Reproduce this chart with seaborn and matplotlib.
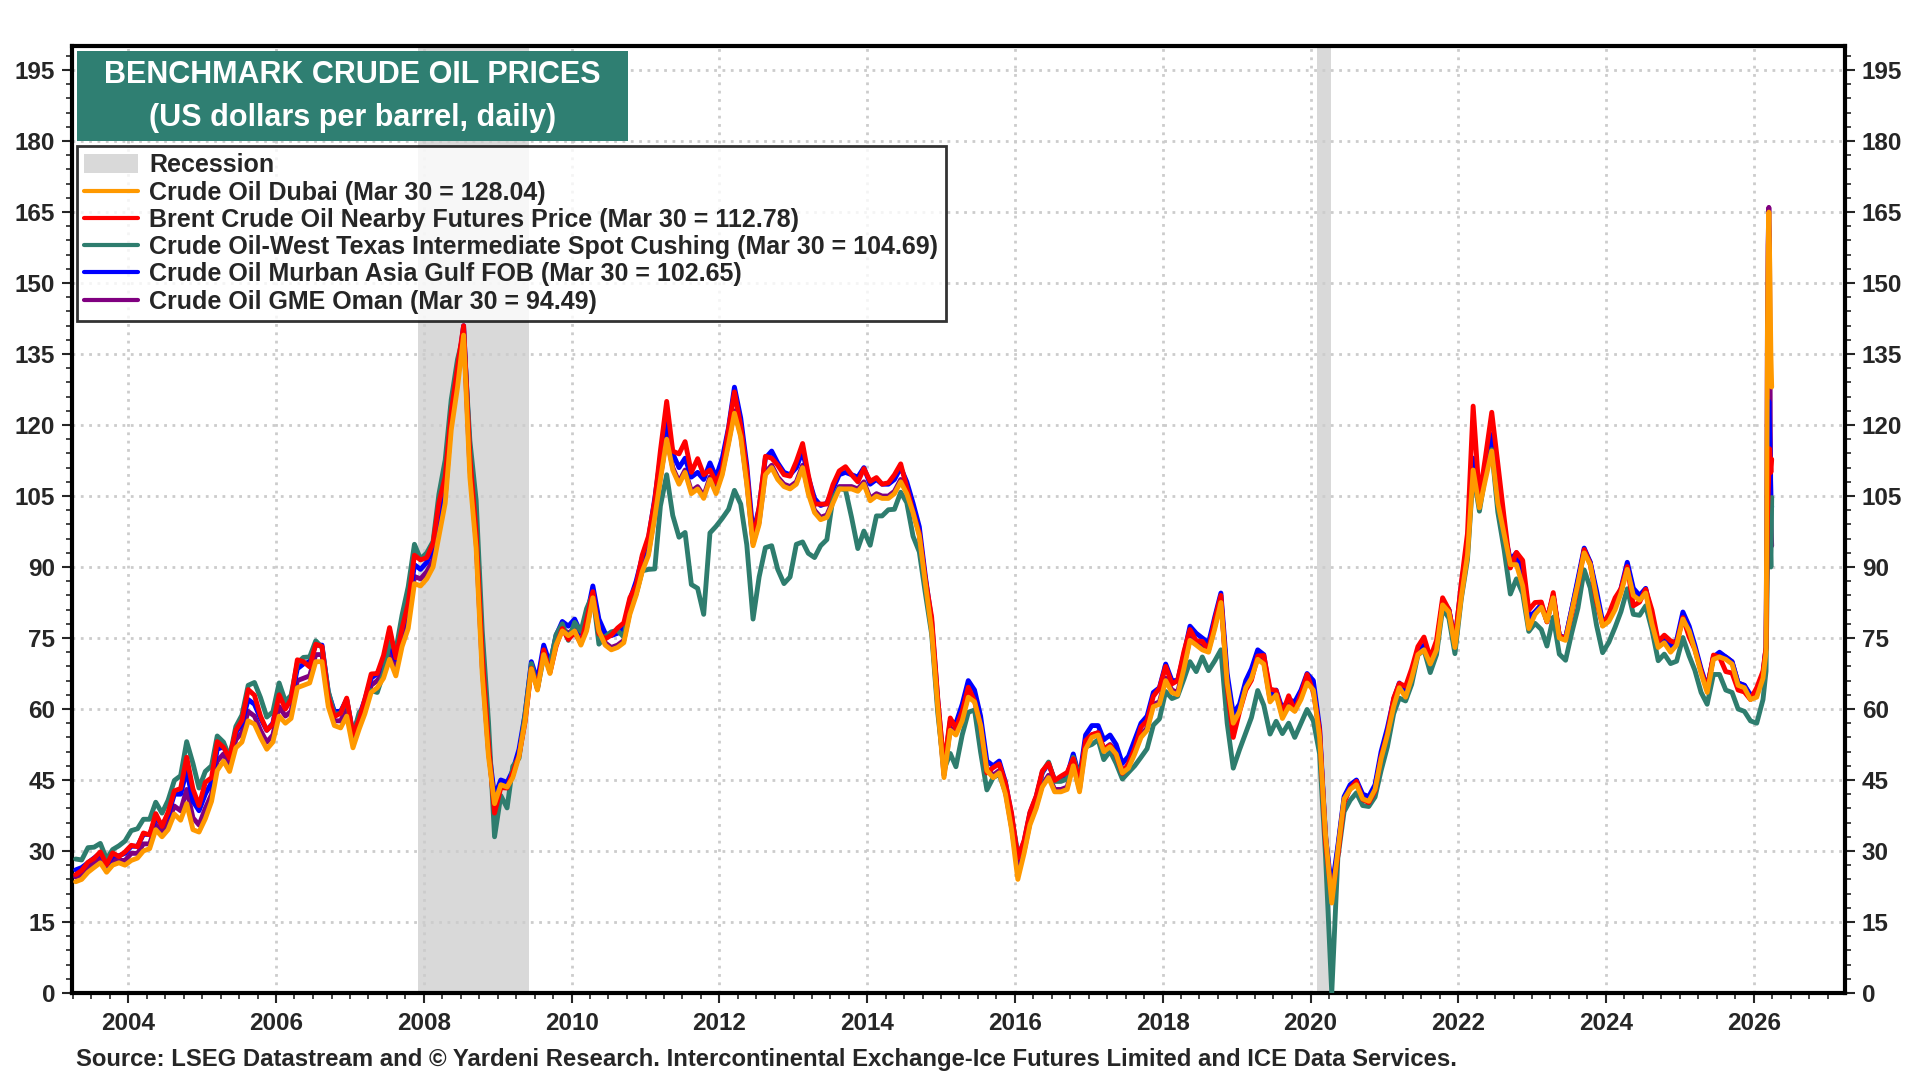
import pandas as pd
import matplotlib
matplotlib.use('Agg')
import matplotlib.pyplot as plt
import matplotlib.dates as mdates
from matplotlib.patches import Patch, Rectangle
from matplotlib.lines import Line2D
import seaborn as sns

sns.set_style('white')
plt.rcParams['font.family'] = ['Liberation Sans', 'DejaVu Sans']
plt.rcParams['font.weight'] = 'bold'

# monthly points (mid-month) Apr 2003 - Feb 2026, then a few March 2026 points
month_dates = list(pd.date_range('2003-04-01', '2026-02-01', freq='MS') + pd.Timedelta(days=14))
march_dates = list(pd.to_datetime(['2026-03-02', '2026-03-05', '2026-03-09', '2026-03-12', '2026-03-16',
                                   '2026-03-19', '2026-03-23', '2026-03-26', '2026-03-30']))
dates = month_dates + march_dates

dubai = [
    23.5, 24.0, 25.5, 26.5, 27.5, 25.5, 27.0, 27.5, 27.0,                         # 2003
    28.0, 28.5, 30.0, 30.5, 34.5, 33.0, 34.5, 37.8, 36.5, 40.0, 34.5, 34.0,       # 2004
    36.8, 40.5, 47.0, 49.0, 46.8, 51.8, 53.0, 57.5, 56.8, 54.0, 51.5, 53.0,       # 2005
    58.5, 57.0, 58.0, 64.5, 65.0, 65.5, 70.0, 70.0, 60.5, 56.5, 56.0, 58.5,       # 2006
    51.8, 55.8, 59.0, 63.5, 64.5, 66.5, 70.5, 67.0, 73.2, 77.0, 86.5, 86.0,       # 2007
    87.5, 90.0, 96.5, 103.5, 119.0, 128.0, 139.0, 109.0, 94.0, 67.5, 50.0, 40.0,  # 2008
    44.0, 43.5, 45.5, 50.0, 57.5, 68.5, 64.0, 71.5, 67.5, 73.5, 76.5, 75.5,       # 2009
    76.5, 73.5, 76.5, 83.5, 76.5, 73.5, 72.5, 73.0, 74.0, 80.0, 84.0, 89.0,       # 2010
    92.5, 100.5, 108.5, 117.0, 110.5, 107.5, 110.0, 105.5, 106.5, 104.5, 108.5, 105.5,  # 2011
    109.5, 116.0, 122.5, 117.5, 107.5, 94.5, 99.0, 109.5, 111.0, 108.5, 107.0, 106.5,   # 2012
    107.5, 111.0, 105.5, 101.5, 100.0, 100.5, 103.5, 106.5, 106.5, 106.5, 106.0, 107.5, # 2013
    104.0, 105.0, 104.5, 104.5, 105.5, 108.0, 105.5, 101.5, 96.5, 86.5, 76.5, 60.5,     # 2014
    45.5, 55.5, 54.5, 57.5, 62.5, 61.5, 56.5, 47.0, 45.5, 46.5, 42.0, 34.5,       # 2015
    24.0, 29.5, 35.5, 39.0, 43.5, 45.5, 42.5, 42.5, 43.0, 48.0, 42.5, 51.5,       # 2016
    54.0, 54.5, 51.0, 52.0, 50.5, 46.5, 47.5, 50.5, 54.0, 55.5, 60.5, 61.0,       # 2017
    66.0, 63.5, 63.0, 68.5, 74.5, 73.5, 72.5, 72.0, 77.0, 82.5, 65.5, 57.0,       # 2018
    59.5, 64.5, 66.5, 70.5, 69.5, 61.5, 63.0, 58.0, 60.5, 59.5, 62.0, 65.5,       # 2019
    64.0, 54.0, 33.5, 19.0, 30.0, 41.0, 43.0, 44.0, 41.0, 40.5, 43.0, 49.5,       # 2020
    54.5, 60.5, 64.5, 62.5, 66.5, 71.5, 72.5, 69.5, 72.5, 82.0, 80.5, 73.0,       # 2021
    83.5, 92.5, 110.5, 102.5, 108.5, 114.5, 103.5, 97.0, 90.5, 90.5, 86.0, 77.0,  # 2022
    80.0, 81.5, 78.5, 83.5, 75.0, 74.5, 80.5, 86.5, 93.0, 90.5, 83.5, 77.5,       # 2023
    78.5, 81.0, 84.5, 89.5, 84.0, 83.0, 84.5, 78.0, 73.0, 74.0, 72.0, 73.5,       # 2024
    79.0, 76.5, 72.5, 67.5, 63.5, 70.5, 71.0, 70.5, 69.5, 65.0, 64.5, 62.0,       # 2025
    62.5, 66.5,                                                                   # 2026 Jan-Feb
    72.0, 95.0, 140.0, 155.0, 165.0, 158.0, 145.0, 135.0, 128.04,                 # 2026 Mar
]

brent = [
    25.0, 25.9, 27.6, 28.4, 29.8, 27.1, 29.6, 28.8, 29.8,
    31.2, 30.9, 33.8, 33.4, 37.9, 35.2, 38.2, 42.7, 43.2, 49.8, 43.1, 39.6,
    44.5, 45.5, 53.1, 51.9, 49.6, 55.5, 57.6, 64.1, 62.9, 58.5, 55.5, 56.8,
    63.0, 60.0, 62.1, 70.4, 70.0, 68.9, 73.7, 73.2, 62.5, 58.4, 59.1, 62.3,
    54.6, 57.8, 62.1, 67.4, 67.5, 71.3, 77.2, 70.8, 77.1, 82.3, 92.5, 91.5,
    92.0, 95.0, 103.6, 109.1, 122.8, 132.3, 141.0, 113.2, 97.2, 71.6, 52.5, 38.0,
    43.4, 43.3, 46.5, 50.2, 57.3, 68.6, 64.4, 72.5, 67.7, 73.2, 77.0, 74.7,
    76.2, 73.8, 78.8, 84.8, 75.9, 74.8, 75.6, 77.1, 78.2, 83.5, 86.1, 92.5,
    96.5, 104.0, 114.6, 125.0, 114.5, 113.9, 116.5, 110.0, 112.9, 109.5, 110.5, 107.9,
    110.7, 119.3, 127.0, 119.8, 110.3, 95.2, 102.6, 113.4, 113.0, 111.5, 109.5, 109.2,
    112.3, 116.1, 109.5, 103.3, 103.3, 103.3, 107.4, 110.3, 111.2, 109.5, 108.0, 110.8,
    108.1, 108.9, 107.5, 107.8, 109.5, 111.8, 106.8, 101.6, 97.1, 87.4, 79.4, 62.3,
    47.8, 58.1, 55.9, 59.5, 64.6, 61.7, 56.5, 46.5, 47.6, 48.4, 44.3, 38.0,
    28.5, 32.2, 38.2, 41.6, 46.9, 48.5, 44.9, 45.8, 46.6, 49.5, 44.7, 53.3,
    54.6, 55.0, 51.6, 52.3, 50.3, 46.4, 48.5, 51.7, 56.2, 57.5, 62.7, 64.4,
    69.0, 65.3, 66.0, 72.1, 76.8, 74.4, 74.3, 72.5, 78.9, 84.0, 64.8, 54.0,
    59.4, 64.0, 66.1, 71.2, 71.3, 64.2, 63.9, 59.0, 62.8, 59.6, 63.2, 67.3,
    63.6, 55.5, 32.0, 20.0, 29.0, 40.3, 43.2, 44.7, 40.9, 40.2, 42.7, 49.9,
    54.8, 62.3, 65.4, 64.8, 68.5, 73.2, 75.2, 70.8, 74.5, 83.5, 81.0, 74.2,
    86.5, 97.1, 124.0, 104.6, 113.3, 122.7, 111.9, 100.5, 89.8, 93.1, 91.4, 80.9,
    82.5, 82.6, 78.4, 84.6, 75.5, 74.8, 80.1, 86.2, 93.7, 90.6, 82.9, 77.6,
    80.1, 83.5, 85.4, 90.1, 81.8, 82.6, 85.3, 80.9, 74.3, 75.6, 74.4, 73.9,
    79.3, 75.2, 72.6, 68.0, 64.2, 71.4, 71.0, 67.9, 67.6, 64.0, 63.6, 62.0,
    64.5, 68.0,
    73.0, 85.0, 100.0, 105.0, 110.0, 115.0, 112.0, 110.0, 112.78,
]

wti = [
    28.3, 28.1, 30.7, 30.8, 31.6, 28.3, 30.3, 31.1, 32.1,
    34.3, 34.7, 36.7, 36.7, 40.3, 38.0, 40.7, 44.9, 45.9, 53.1, 48.5, 43.3,
    46.8, 48.0, 54.3, 53.0, 49.8, 56.3, 58.7, 65.0, 65.6, 62.4, 58.3, 59.4,
    65.5, 61.6, 62.9, 69.7, 70.9, 71.0, 74.4, 73.0, 63.8, 58.9, 59.1, 62.0,
    54.5, 59.3, 60.4, 63.9, 63.5, 67.5, 74.1, 72.4, 79.9, 85.8, 94.8, 91.7,
    93.0, 95.4, 105.4, 112.6, 125.4, 133.9, 139.0, 116.7, 104.1, 76.6, 57.3, 33.0,
    41.7, 39.1, 47.9, 49.6, 59.0, 69.6, 64.2, 71.1, 69.4, 75.7, 78.0, 74.5,
    78.3, 76.4, 81.2, 84.3, 73.7, 75.3, 76.3, 76.6, 75.2, 81.9, 84.3, 89.2,
    89.5, 89.6, 102.9, 109.5, 100.9, 96.3, 97.3, 86.3, 85.5, 80.0, 97.2, 98.6,
    100.3, 102.2, 106.2, 103.3, 94.7, 79.0, 87.9, 94.1, 94.5, 89.5, 86.5, 87.9,
    94.8, 95.3, 92.9, 92.0, 94.5, 95.8, 104.6, 106.6, 106.3, 100.5, 93.9, 97.6,
    94.6, 100.8, 100.8, 102.1, 102.2, 105.8, 103.6, 96.5, 93.2, 84.4, 75.8, 59.3,
    47.2, 50.6, 47.8, 54.5, 59.3, 59.8, 50.9, 42.9, 45.5, 46.2, 42.4, 37.2,
    29.5, 30.3, 37.5, 40.8, 46.7, 48.8, 44.7, 44.7, 45.2, 49.8, 45.7, 52.0,
    52.5, 53.5, 49.3, 51.1, 48.5, 45.2, 46.6, 48.0, 49.8, 51.6, 56.6, 57.9,
    63.7, 62.2, 62.7, 66.3, 70.0, 67.9, 71.0, 68.1, 70.2, 72.5, 57.0, 47.5,
    51.4, 55.0, 58.2, 63.9, 60.8, 54.7, 57.4, 54.8, 57.0, 54.0, 57.0, 59.9,
    57.5, 50.5, 29.2, 0.0, 28.5, 38.3, 40.7, 42.3, 39.6, 39.4, 41.4, 47.0,
    52.0, 59.0, 62.3, 61.7, 65.2, 71.4, 72.5, 67.7, 71.5, 81.2, 79.2, 71.7,
    83.2, 91.6, 110.0, 101.8, 109.6, 114.8, 101.6, 93.7, 84.3, 87.5, 84.4, 76.4,
    78.1, 76.8, 73.3, 79.4, 71.6, 70.3, 76.0, 81.3, 89.4, 85.6, 77.7, 71.9,
    74.1, 77.3, 80.6, 85.4, 80.0, 79.8, 81.8, 76.7, 70.2, 71.6, 69.6, 70.1,
    75.1, 71.2, 68.2, 63.5, 61.0, 67.3, 67.3, 64.0, 63.5, 60.0, 59.5, 57.5,
    57.0, 62.0,
    68.0, 78.0, 90.0, 95.0, 98.0, 100.0, 95.0, 90.0, 104.69,
]

murban = [
    26.0, 26.5, 27.5, 28.5, 29.5, 27.0, 29.0, 29.0, 29.5,
    31.0, 31.0, 33.5, 33.5, 37.0, 35.5, 37.5, 42.0, 42.0, 47.0, 40.5, 38.5,
    42.0, 44.5, 51.5, 52.0, 50.0, 55.0, 57.0, 62.0, 61.0, 58.0, 55.5, 57.0,
    63.5, 61.0, 62.0, 68.5, 69.5, 70.0, 73.5, 73.5, 63.5, 59.5, 59.5, 62.0,
    55.0, 58.5, 62.0, 66.5, 67.5, 70.0, 74.0, 70.5, 77.0, 80.5, 90.5, 89.5,
    91.0, 94.0, 101.0, 108.0, 124.0, 131.0, 141.0, 114.0, 97.0, 71.0, 52.0, 41.5,
    45.0, 44.5, 47.0, 51.5, 59.0, 70.0, 66.0, 73.5, 69.5, 75.5, 78.5, 77.5,
    79.0, 76.0, 79.5, 86.0, 79.0, 76.0, 75.5, 76.0, 77.0, 83.0, 87.0, 92.0,
    96.0, 104.5, 113.0, 121.0, 114.0, 111.0, 113.0, 109.0, 110.0, 108.5, 112.0, 109.0,
    113.0, 119.5, 128.0, 121.5, 111.5, 97.0, 102.5, 113.0, 114.5, 112.0, 110.0, 109.5,
    111.0, 114.5, 109.0, 104.5, 103.0, 103.5, 106.5, 109.5, 110.0, 109.5, 109.0, 111.0,
    107.5, 108.5, 107.5, 107.5, 108.5, 111.0, 108.0, 103.5, 98.5, 88.0, 78.5, 62.0,
    47.5, 57.5, 57.0, 61.0, 66.0, 64.0, 58.5, 49.0, 48.0, 49.0, 44.5, 37.5,
    28.5, 32.0, 38.0, 41.5, 46.5, 48.5, 45.0, 45.0, 46.0, 50.5, 45.5, 54.5,
    56.5, 56.5, 53.5, 54.5, 52.5, 48.5, 50.0, 53.5, 57.0, 58.5, 63.5, 64.5,
    69.5, 66.0, 66.0, 71.5, 77.5, 76.0, 75.0, 74.0, 79.5, 84.5, 67.5, 59.0,
    61.0, 66.0, 68.5, 72.5, 71.5, 63.0, 64.0, 60.0, 62.0, 61.5, 64.0, 67.5,
    66.0, 56.0, 33.0, 22.0, 31.0, 41.5, 44.0, 45.0, 42.0, 41.5, 44.0, 51.0,
    56.0, 62.0, 65.5, 63.5, 67.5, 72.0, 73.5, 70.0, 73.5, 82.5, 81.0, 74.5,
    86.0, 95.0, 113.0, 104.0, 110.5, 118.0, 104.0, 97.5, 91.5, 93.0, 89.5, 79.5,
    80.5, 82.0, 78.5, 84.0, 75.5, 75.0, 81.0, 87.5, 94.0, 91.0, 85.0, 78.5,
    79.5, 82.5, 85.5, 91.0, 85.5, 84.0, 85.5, 79.5, 74.0, 75.0, 73.5, 74.5,
    80.5, 77.5, 73.5, 68.5, 64.5, 71.0, 72.0, 71.0, 70.0, 65.5, 65.0, 63.0,
    63.5, 67.5,
    73.0, 88.0, 110.0, 118.0, 125.0, 120.0, 112.0, 105.0, 102.65,
]

oman = [
    24.5, 25.0, 26.5, 27.5, 28.5, 26.0, 28.0, 28.0, 28.0,
    29.5, 29.5, 31.5, 31.5, 35.5, 34.0, 36.0, 39.5, 38.5, 43.0, 37.0, 35.5,
    39.0, 42.0, 49.0, 50.5, 48.0, 53.5, 55.0, 59.5, 58.5, 55.5, 53.0, 54.5,
    60.5, 58.5, 59.5, 66.0, 66.5, 67.0, 71.5, 71.5, 61.5, 57.5, 57.5, 60.0,
    53.0, 57.0, 60.5, 65.0, 66.0, 68.0, 72.0, 68.5, 74.5, 78.5, 88.0, 87.5,
    89.0, 91.5, 98.5, 105.0, 121.0, 129.5, 140.0, 111.0, 95.5, 69.0, 51.0, 40.5,
    44.5, 44.0, 46.0, 50.5, 58.0, 69.0, 64.5, 72.0, 68.0, 74.0, 77.0, 76.0,
    77.0, 74.0, 77.0, 84.0, 77.5, 74.0, 73.0, 73.5, 74.5, 80.5, 84.5, 89.5,
    93.0, 101.0, 109.0, 117.5, 111.0, 108.0, 110.5, 106.0, 107.0, 105.0, 109.0, 106.0,
    110.0, 116.5, 123.0, 118.0, 108.0, 95.0, 99.5, 110.0, 111.5, 109.0, 107.5, 107.0,
    108.0, 111.5, 106.0, 102.0, 100.5, 101.0, 104.0, 107.0, 107.0, 107.0, 106.5, 108.0,
    104.5, 105.5, 105.0, 105.0, 106.0, 108.5, 106.0, 102.0, 97.0, 87.0, 77.0, 61.0,
    46.0, 56.0, 55.0, 58.0, 63.0, 62.0, 57.0, 47.5, 46.0, 47.0, 42.5, 35.0,
    26.0, 30.0, 36.0, 39.5, 44.0, 46.0, 43.0, 43.0, 43.5, 48.5, 43.0, 52.5,
    54.5, 55.0, 51.5, 52.5, 51.0, 47.0, 48.0, 51.0, 54.5, 56.0, 61.0, 61.5,
    66.5, 64.0, 63.5, 69.0, 75.0, 74.0, 73.0, 72.5, 77.5, 83.0, 66.0, 57.5,
    60.0, 65.0, 67.0, 71.0, 70.0, 62.0, 63.5, 58.5, 61.0, 60.0, 62.5, 66.0,
    64.5, 54.5, 33.5, 20.0, 30.5, 41.0, 43.5, 44.5, 41.5, 41.0, 43.5, 50.0,
    55.0, 61.0, 65.0, 63.0, 67.0, 72.0, 73.0, 70.0, 73.0, 82.5, 81.0, 73.5,
    84.0, 93.5, 112.0, 103.0, 109.5, 116.0, 104.5, 97.5, 91.0, 91.5, 87.0, 78.0,
    80.5, 82.0, 79.0, 84.0, 75.5, 75.0, 81.0, 87.0, 93.5, 91.0, 84.0, 78.0,
    79.0, 81.5, 85.0, 90.0, 84.5, 83.5, 85.0, 78.5, 73.5, 74.5, 72.5, 74.0,
    79.5, 77.0, 73.0, 68.0, 64.0, 71.0, 71.5, 71.0, 70.0, 65.5, 65.0, 62.5,
    63.0, 67.0,
    73.0, 96.0, 142.0, 158.0, 166.0, 160.0, 121.0, 100.0, 94.49,
]

series_names = [
    'Crude Oil Dubai (Mar 30 = 128.04)',
    'Brent Crude Oil Nearby Futures Price (Mar 30 = 112.78)',
    'Crude Oil-West Texas Intermediate Spot Cushing (Mar 30 = 104.69)',
    'Crude Oil Murban Asia Gulf FOB (Mar 30 = 102.65)',
    'Crude Oil GME Oman (Mar 30 = 94.49)',
]
series_values = [dubai, brent, wti, murban, oman]
colors = ['#FF9900', '#FF0000', '#2E7D6E', '#0000FF', '#800080']

recession_starts = ['2007-12-01', '2020-02-01']
recession_ends = ['2009-06-01', '2020-04-10']

# long format for seaborn
frames = []
for name, vals in zip(series_names, series_values):
    frames.append(pd.DataFrame({'date': dates, 'price': vals, 'series': name}))
df = pd.concat(frames, ignore_index=True)

fig = plt.figure(figsize=(19.2, 10.8), dpi=100)
ax = fig.add_axes([0.0375, 0.0806, 0.9235, 0.8764])

for s, e in zip(recession_starts, recession_ends):
    ax.axvspan(pd.Timestamp(s), pd.Timestamp(e), color='#D9D9D9', zorder=0, lw=0)

# draw Oman first so Dubai ends up on top
sns.lineplot(data=df, x='date', y='price', hue='series',
             hue_order=series_names[::-1],
             palette=dict(zip(series_names, colors)),
             linewidth=3.5, estimator=None, errorbar=None, legend=False, ax=ax, zorder=3)

ax.set_xlim(pd.Timestamp('2003-03-28'), pd.Timestamp('2027-03-28'))
ax.set_ylim(0, 200)
ax.set_xlabel('')
ax.set_ylabel('')

ax.yaxis.set_major_locator(plt.MultipleLocator(15))
ax.yaxis.set_minor_locator(plt.MultipleLocator(3))
ax.xaxis.set_major_locator(mdates.YearLocator(2))
ax.xaxis.set_minor_locator(mdates.MonthLocator(bymonth=[1, 4, 7, 10]))
ax.xaxis.set_major_formatter(mdates.DateFormatter('%Y'))

ax.grid(True, which='major', color='#CCCCCC', linestyle=(0, (1, 2)), linewidth=2)
ax.set_axisbelow(True)

ax.tick_params(axis='both', which='major', direction='out', length=7, width=1.5,
               labelsize=17.5, pad=5)
ax.tick_params(axis='both', which='minor', direction='out', length=4, width=1.2)
ax.tick_params(axis='y', which='both', left=True, right=True, labelleft=True, labelright=True)
ax.tick_params(axis='x', which='both', bottom=True, top=False)
ax.tick_params(axis='x', which='major', pad=7)
for lab in ax.get_xticklabels() + ax.get_yticklabels():
    lab.set_fontweight('bold')
for sp in ax.spines.values():
    sp.set_linewidth(3)
    sp.set_color('black')

# title box
ax.add_patch(Rectangle((0.0028, 0.9002), 0.3106, 0.095, transform=ax.transAxes,
                       facecolor='#2F7F72', edgecolor='none', zorder=6, clip_on=False))
ax.text(0.1582, 0.9702, 'BENCHMARK CRUDE OIL PRICES', transform=ax.transAxes,
        ha='center', va='center', color='white', fontsize=22, fontweight='bold', zorder=7)
ax.text(0.1582, 0.9249, '(US dollars per barrel, daily)', transform=ax.transAxes,
        ha='center', va='center', color='white', fontsize=22, fontweight='bold', zorder=7)

# legend
handles = [Patch(facecolor='#D9D9D9', edgecolor='none')]
handles += [Line2D([0], [0], color=c, lw=3) for c in colors]
labels = ['Recession'] + series_names
leg = ax.legend(handles, labels, loc='upper left', bbox_to_anchor=(0.0028, 0.895),
                borderaxespad=0, frameon=True, fancybox=False, shadow=False,
                prop={'family': 'Liberation Sans', 'weight': 'bold', 'size': 18},
                handlelength=2.15, handleheight=0.75, handletextpad=0.45,
                labelspacing=0.13, borderpad=0.3)
leg.get_frame().set_edgecolor('black')
leg.get_frame().set_linewidth(2)
leg.set_zorder(8)

fig.text(0.0396, 0.0194,
         'Source: LSEG Datastream and \u00a9 Yardeni Research. Intercontinental Exchange-Ice Futures Limited and ICE Data Services.',
         ha='left', va='center', fontsize=17.2, fontweight='bold')

fig.savefig('out.png', dpi=100)
